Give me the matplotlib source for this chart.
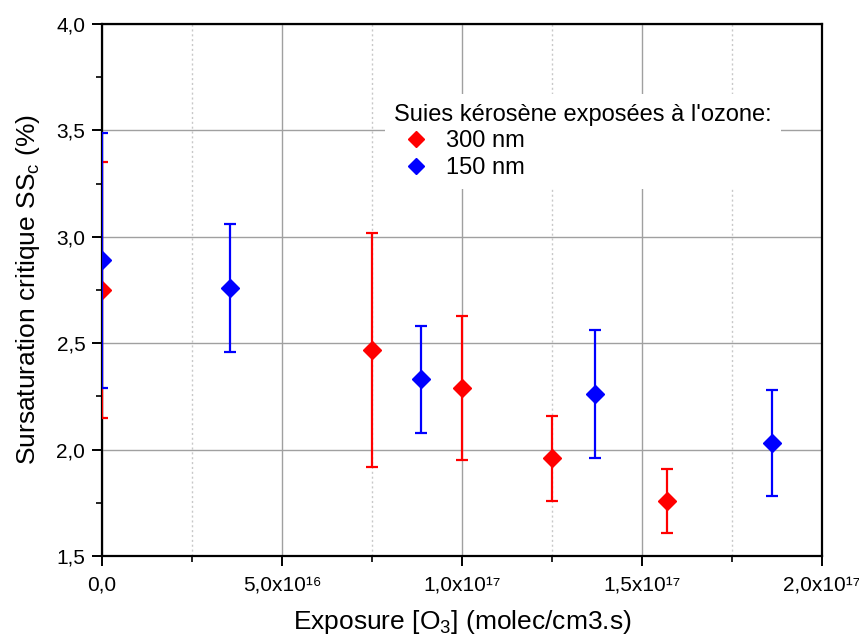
import matplotlib
matplotlib.use("Agg")
import matplotlib.pyplot as plt
from matplotlib.ticker import MultipleLocator, FixedLocator, FixedFormatter

plt.rcParams['font.family'] = ['Liberation Sans', 'DejaVu Sans']
plt.rcParams['mathtext.fontset'] = 'custom'
plt.rcParams['mathtext.rm'] = 'Liberation Sans'
plt.rcParams['mathtext.it'] = 'Liberation Sans'

# Kerosene soot, 300 nm particles
x_300 = [0.0, 7.5e16, 1.0e17, 1.25e17, 1.57e17]
ss_300 = [2.75, 2.47, 2.29, 1.96, 1.76]
err_300 = [0.60, 0.55, 0.34, 0.20, 0.15]

# Kerosene soot, 150 nm particles
x_150 = [0.0, 3.56e16, 8.86e16, 1.37e17, 1.86e17]
ss_150 = [2.89, 2.76, 2.33, 2.26, 2.03]
err_150 = [0.60, 0.30, 0.25, 0.30, 0.25]

xtick_vals = [0.0, 5e16, 1e17, 1.5e17, 2e17]
xtick_labels = ['0,0', '5,0x10\u00b9\u2076', '1,0x10\u00b9\u2077',
                '1,5x10\u00b9\u2077', '2,0x10\u00b9\u2077']
ytick_vals = [1.5, 2.0, 2.5, 3.0, 3.5, 4.0]
ytick_labels = ['1,5', '2,0', '2,5', '3,0', '3,5', '4,0']

fig = plt.figure(figsize=(8.59, 6.43), dpi=100)
ax = fig.add_axes([102/859, 1 - 556/643, 720/859, 532/643])

ax.set_xlim(0, 2e17)
ax.set_ylim(1.5, 4.0)

ax.xaxis.set_major_locator(FixedLocator(xtick_vals))
ax.xaxis.set_major_formatter(FixedFormatter(xtick_labels))
ax.xaxis.set_minor_locator(MultipleLocator(2.5e16))
ax.yaxis.set_major_locator(FixedLocator(ytick_vals))
ax.yaxis.set_major_formatter(FixedFormatter(ytick_labels))
ax.yaxis.set_minor_locator(MultipleLocator(0.25))

ax.grid(which='major', color='#a0a0a0', linewidth=1.0, linestyle='-', zorder=0)
ax.grid(which='minor', axis='x', color='#c8c8c8', linewidth=1.0, linestyle=(0, (1.5, 2)), zorder=0)
ax.set_axisbelow(True)

for s in ax.spines.values():
    s.set_linewidth(1.6)

ax.tick_params(which='major', direction='out', length=7, width=1.4, labelsize=15,
               top=False, right=False)
ax.tick_params(which='minor', direction='out', length=4, width=1.2,
               top=False, right=False)
ax.tick_params(axis='x', which='major', pad=7)
ax.tick_params(axis='y', which='major', pad=5)

ax.errorbar(x_300, ss_300, yerr=err_300, fmt='D', color='#ff0000', ms=9.5,
            elinewidth=1.6, capsize=4, capthick=1.6, zorder=3, label='300 nm')
ax.errorbar(x_150, ss_150, yerr=err_150, fmt='D', color='#0000ff', ms=9.5,
            elinewidth=1.6, capsize=4, capthick=1.6, zorder=4, label='150 nm')

ax.set_xlabel('Exposure [O$_{\\mathregular{3}}$] (molec/cm3.s)', fontsize=19, labelpad=10)
ax.set_ylabel('Sursaturation critique SS$_{\\mathregular{c}}$ (%)', fontsize=19, labelpad=10)

handles, labels = ax.get_legend_handles_labels()
handles = [h[0] for h in handles]
leg = ax.legend(handles, labels, title="Suies kérosène exposées à l'ozone:",
                loc='upper left', bbox_to_anchor=(0.376, 0.89),
                frameon=True, fancybox=False, framealpha=1.0, edgecolor='none',
                facecolor='white', fontsize=17, title_fontsize=17,
                handlelength=1.85, handletextpad=0.35, borderpad=0.4,
                labelspacing=0.2, markerscale=0.85)
leg._legend_box.align = 'left'
leg.set_zorder(5)

fig.savefig('out.png', dpi=100)
